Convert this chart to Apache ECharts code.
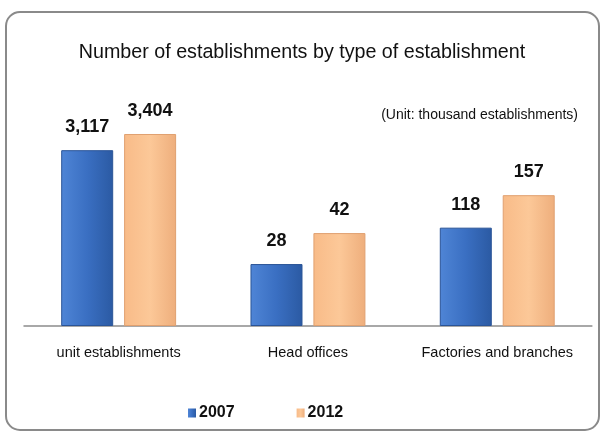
<!DOCTYPE html>
<html>
<head>
<meta charset="utf-8">
<script src="https://cdn.jsdelivr.net/npm/echarts@6/dist/echarts.min.js"></script>
<style>
  html, body { margin: 0; padding: 0; background: #fff; }
  #chart { width: 604px; height: 432px; }
</style>
</head>
<body>
<div id="chart"></div>
<script>
const categories = ["unit establishments", "Head offices", "Factories and branches"];
const years = ["2007", "2012"];
const values2007 = [3117, 28, 118];
const values2012 = [3404, 42, 157];

// the source draws each group on its own scale
const panelMax = [4432, 113, 300];

const font = '"Liberation Sans", Arial, sans-serif';

const blueFill = new echarts.graphic.LinearGradient(0, 0, 1, 0, [
  { offset: 0, color: "#4f85d6" },
  { offset: 0.5, color: "#3a6fc2" },
  { offset: 1, color: "#2b5aa3" },
]);
const peachFill = new echarts.graphic.LinearGradient(0, 0, 1, 0, [
  { offset: 0, color: "#f8bb88" },
  { offset: 0.5, color: "#fcc898" },
  { offset: 1, color: "#eeae7c" },
]);

const left0 = 24;
const panelW = 189.3;

const grids = categories.map((c, i) => ({
  left: left0 + panelW * i,
  width: panelW,
  top: 76,
  bottom: 106,
}));
// one more grid just for the shared baseline
grids.push({ left: left0, width: panelW * 3, top: 76, bottom: 106 });

const xAxes = categories.map((c, i) => ({
  type: "category",
  gridIndex: i,
  data: [c],
  axisTick: { show: false },
  axisLine: { show: false },
  axisLabel: { color: "#111", fontSize: 14.5, fontFamily: font, margin: 19 },
}));
xAxes.push({
  type: "value",
  gridIndex: 3,
  axisLine: { show: true, lineStyle: { color: "#8c8c8c", width: 1.5 } },
  axisTick: { show: false },
  axisLabel: { show: false },
  splitLine: { show: false },
});

const yAxes = categories.map((c, i) => ({
  type: "value",
  gridIndex: i,
  min: 0,
  max: panelMax[i],
  show: false,
  splitLine: { show: false },
}));
yAxes.push({ type: "value", gridIndex: 3, show: false, splitLine: { show: false } });

function labelOpt() {
  return {
    show: true,
    position: "top",
    distance: 14,
    color: "#111",
    fontSize: 18,
    fontWeight: "bold",
    fontFamily: font,
    formatter: (p) => p.value.toLocaleString("en-US"),
  };
}

const series = [];
categories.forEach((c, i) => {
  series.push({
    name: years[0],
    type: "bar",
    xAxisIndex: i,
    yAxisIndex: i,
    data: [values2007[i]],
    barWidth: 52,
    barGap: "21%",
    itemStyle: { color: blueFill, borderColor: "#2a5497", borderWidth: 1 },
    label: labelOpt(),
  });
  series.push({
    name: years[1],
    type: "bar",
    xAxisIndex: i,
    yAxisIndex: i,
    data: [values2012[i]],
    barWidth: 52,
    barGap: "21%",
    itemStyle: { color: peachFill, borderColor: "#e0a070", borderWidth: 1 },
    label: labelOpt(),
  });
});

const chart = echarts.init(document.getElementById("chart"));
chart.setOption({
  animation: false,
  backgroundColor: "#fff",
  color: ["#3a6fc2", "#f5b883"],
  title: {
    text: "Number of establishments by type of establishment",
    left: "center",
    top: 38,
    textStyle: { fontSize: 19.7, fontWeight: "normal", color: "#111", fontFamily: font },
  },
  graphic: [
    {
      type: "rect",
      shape: { x: 6, y: 12, width: 593, height: 418, r: 14 },
      style: { fill: "none", stroke: "#8a8a8a", lineWidth: 2 },
      silent: true,
    },
    {
      type: "text",
      right: 26,
      top: 108,
      style: {
        text: "(Unit: thousand establishments)",
        fill: "#111",
        font: "14px " + font,
      },
    },
  ],
  legend: {
    data: years,
    left: 183,
    top: 400,
    icon: "rect",
    itemWidth: 8,
    itemHeight: 9,
    itemGap: 62,
    itemStyle: { borderWidth: 0 },
    textStyle: { fontSize: 16, fontWeight: "bold", color: "#111", fontFamily: font, padding: [0, 0, 0, -2] },
  },
  grid: grids,
  xAxis: xAxes,
  yAxis: yAxes,
  series: series,
});
</script>
</body>
</html>
